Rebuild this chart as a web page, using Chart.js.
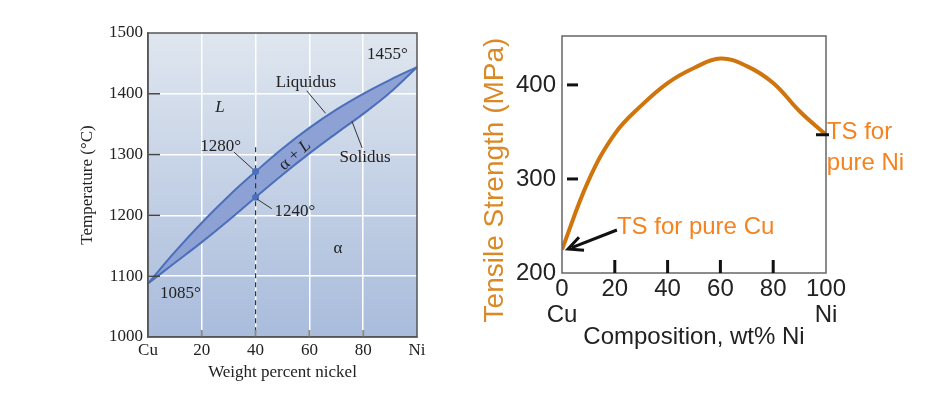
<!DOCTYPE html>
<html>
<head>
<meta charset="utf-8">
<script src="https://cdn.jsdelivr.net/npm/chart.js@4.4.1/dist/chart.umd.min.js"></script>
<style>
html, body { margin: 0; padding: 0; background: #fff; }
#wrap { position: relative; width: 937px; height: 395px; overflow: hidden; }
canvas { position: absolute; top: 0; }
#phase { left: 0; }
#ts { left: 460px; }
</style>
</head>
<body>
<div id="wrap">
  <canvas id="phase" width="460" height="395"></canvas>
  <canvas id="ts" width="477" height="395"></canvas>
</div>
<script>
// --- phase diagram (left) ---
const wtNi = [0, 10, 20, 30, 40, 50, 60, 70, 80, 90, 100];
const liquidus = [1088, 1140, 1188, 1232, 1272, 1310, 1344, 1374, 1400, 1423, 1444];
const solidus = [1088, 1122, 1156, 1192, 1230, 1267, 1302, 1335, 1367, 1402, 1444];
const alloyPct = 40;
const alloyTemps = [1272, 1230];
const alloyLineTemps = [1312, 1000];
const tempTicks = [1000, 1100, 1200, 1300, 1400, 1500];
const pctTicks = [0, 20, 40, 60, 80, 100];
const pctLabels = ['Cu', '20', '40', '60', '80', 'Ni'];

// --- tensile strength (right) ---
const compPct = [0, 10, 20, 30, 40, 50, 60, 70, 80, 90, 100];
const tensile = [225, 298, 348, 378, 402, 418, 428, 420, 402, 372, 347];
const tsTicks = [200, 300, 400];
const compTicks = [0, 20, 40, 60, 80, 100];
const compLabels = [['0', 'Cu'], '20', '40', '60', '80', ['100', 'Ni']];

const serif = "'Liberation Serif', 'Times New Roman', serif";
const sans = "'Liberation Sans', Arial, sans-serif";

function pts(xs, ys) { return xs.map((x, i) => ({ x: x, y: ys[i] })); }
function px(chart, x, y) { return [chart.scales.x.getPixelForValue(x), chart.scales.y.getPixelForValue(y)]; }

// text and leader lines on the phase diagram
const phaseNotes = [
  { text: '1455°', x: 89, y: 1464 },
  { text: 'Liquidus', x: 58.7, y: 1418 },
  { text: 'Solidus', x: 80.7, y: 1296 },
  { text: '1280°', x: 27, y: 1314 },
  { text: '1240°', x: 54.6, y: 1206 },
  { text: '1085°', x: 12, y: 1072 },
  { text: 'L', x: 26.8, y: 1377, italic: true },
  { text: 'α', x: 70.6, y: 1146 }
];
const phaseLeaders = [
  [[32, 1304], [39, 1276]],
  [[40.5, 1227], [46, 1211]],
  [[59, 1405], [66, 1368]],
  [[75.8, 1355], [79.6, 1311]]
];

const phaseDecor = {
  id: 'phaseDecor',
  beforeDraw(chart) {
    const { ctx, chartArea: a } = chart;
    const g = ctx.createLinearGradient(0, a.top, 0, a.bottom);
    g.addColorStop(0, '#dfe6ef');
    g.addColorStop(1, '#a9bcdc');
    ctx.save();
    ctx.fillStyle = g;
    ctx.fillRect(a.left, a.top, a.right - a.left, a.bottom - a.top);
    ctx.restore();
  },
  afterDraw(chart) {
    const { ctx, chartArea: a } = chart;
    const xs = chart.scales.x, ys = chart.scales.y;
    ctx.save();
    // inward ticks
    ctx.strokeStyle = '#444';
    ctx.lineWidth = 1.5;
    tempTicks.slice(1, -1).forEach(v => {
      const y = ys.getPixelForValue(v);
      ctx.beginPath(); ctx.moveTo(a.left, y); ctx.lineTo(a.left + 12, y); ctx.stroke();
    });
    ctx.strokeStyle = '#8a8a8a';
    ctx.lineWidth = 2;
    pctTicks.slice(1, -1).forEach(v => {
      const x = xs.getPixelForValue(v);
      ctx.beginPath(); ctx.moveTo(x, a.bottom); ctx.lineTo(x, a.bottom - 7); ctx.stroke();
    });
    // frame
    ctx.strokeStyle = '#555';
    ctx.lineWidth = 1.5;
    ctx.strokeRect(a.left, a.top, a.right - a.left, a.bottom - a.top);
    // leaders
    ctx.strokeStyle = '#333';
    ctx.lineWidth = 1;
    phaseLeaders.forEach(l => {
      const p0 = px(chart, l[0][0], l[0][1]), p1 = px(chart, l[1][0], l[1][1]);
      ctx.beginPath(); ctx.moveTo(p0[0], p0[1]); ctx.lineTo(p1[0], p1[1]); ctx.stroke();
    });
    // labels
    ctx.fillStyle = '#222';
    ctx.textAlign = 'center';
    ctx.textBaseline = 'middle';
    phaseNotes.forEach(n => {
      const p = px(chart, n.x, n.y);
      ctx.font = (n.italic ? 'italic ' : '') + '17px ' + serif;
      ctx.fillText(n.text, p[0], p[1]);
    });
    // alpha + L along the band
    const c = px(chart, 54.6, 1299);
    ctx.translate(c[0], c[1]);
    ctx.rotate(-42 * Math.PI / 180);
    ctx.textAlign = 'left';
    ctx.font = '17px ' + serif;
    const part = 'α + ';
    const w1 = ctx.measureText(part).width;
    ctx.font = 'italic 17px ' + serif;
    const w2 = ctx.measureText('L').width;
    ctx.font = '17px ' + serif;
    ctx.fillText(part, -(w1 + w2) / 2, 0);
    ctx.font = 'italic 17px ' + serif;
    ctx.fillText('L', -(w1 + w2) / 2 + w1, 0);
    ctx.restore();
  }
};

const hideEdges = (vals) => (c) => (c.tick && (c.tick.value === vals[0] || c.tick.value === vals[vals.length - 1])) ? 'rgba(0,0,0,0)' : '#ffffff';

new Chart(document.getElementById('phase'), {
  type: 'line',
  data: {
    datasets: [
      {
        data: alloyTemps.map(t => ({ x: alloyPct, y: t })),
        showLine: false,
        pointRadius: 3.5,
        pointBackgroundColor: '#4b6fba',
        pointBorderWidth: 0
      },
      {
        data: pts(wtNi, liquidus),
        borderColor: '#4b6fba',
        borderWidth: 2,
        backgroundColor: '#8da1d5',
        fill: '+1',
        pointRadius: 0,
        tension: 0.4
      },
      {
        data: pts(wtNi, solidus),
        borderColor: '#4b6fba',
        borderWidth: 2,
        fill: false,
        pointRadius: 0,
        tension: 0.4
      },
      {
        data: alloyLineTemps.map(t => ({ x: alloyPct, y: t })),
        borderColor: '#333',
        borderWidth: 1.2,
        borderDash: [5, 4],
        pointRadius: 0,
        fill: false
      }
    ]
  },
  options: {
    responsive: false,
    animation: false,
    layout: { padding: { left: 70, top: 33, right: 43, bottom: 0 } },
    plugins: {
      legend: { display: false },
      tooltip: { enabled: false },
      filler: { drawTime: 'beforeDatasetsDraw' }
    },
    scales: {
      x: {
        type: 'linear', min: 0, max: 100,
        afterBuildTicks: s => { s.ticks = pctTicks.map(v => ({ value: v })); },
        ticks: {
          callback: (v, i) => pctLabels[i],
          font: { family: serif, size: 17 }, color: '#222', padding: 3,
          maxRotation: 0, autoSkip: false
        },
        grid: { color: hideEdges(pctTicks), lineWidth: 1.5, drawTicks: false },
        border: { display: true, color: '#555', width: 1.5 },
        title: {
          display: true, text: 'Weight percent nickel',
          font: { family: serif, size: 17 }, color: '#222',
          padding: { top: 0, bottom: 12 }
        },
        afterFit: s => { s.height = 58; }
      },
      y: {
        type: 'linear', min: 1000, max: 1500,
        afterBuildTicks: s => { s.ticks = tempTicks.map(v => ({ value: v })); },
        ticks: {
          callback: v => String(v),
          font: { family: serif, size: 17 }, color: '#222', padding: 5
        },
        grid: { color: hideEdges(tempTicks), lineWidth: 1.5, drawTicks: false },
        border: { display: true, color: '#555', width: 1.5 },
        title: {
          display: true, text: 'Temperature (°C)',
          font: { family: serif, size: 17 }, color: '#222',
          padding: { top: 7, bottom: 0 }
        },
        afterFit: s => { s.width = 78; }
      }
    }
  },
  plugins: [phaseDecor]
});

// annotations on the tensile chart
const tsNotes = [
  { text: 'TS for pure Cu', x: 20.8, y: 249 },
  { text: 'TS for', x: 100.3, y: 349 },
  { text: 'pure Ni', x: 100.3, y: 317 }
];
const tsArrow = { from: [20.8, 245.7], to: [2.3, 225.5] };

const tsDecor = {
  id: 'tsDecor',
  afterDraw(chart) {
    const { ctx, chartArea: a } = chart;
    const xs = chart.scales.x, ys = chart.scales.y;
    ctx.save();
    ctx.strokeStyle = '#666';
    ctx.lineWidth = 1.5;
    ctx.strokeRect(a.left, a.top, a.right - a.left, a.bottom - a.top);
    // tick marks
    ctx.strokeStyle = '#111';
    ctx.lineWidth = 3;
    tsTicks.slice(1).forEach(v => {
      const y = ys.getPixelForValue(v);
      ctx.beginPath(); ctx.moveTo(a.left + 5, y); ctx.lineTo(a.left + 16, y); ctx.stroke();
    });
    compTicks.slice(1, -1).forEach(v => {
      const x = xs.getPixelForValue(v);
      ctx.beginPath(); ctx.moveTo(x, a.bottom); ctx.lineTo(x, a.bottom - 13); ctx.stroke();
    });
    const yNi = ys.getPixelForValue(tensile[tensile.length - 1]);
    ctx.beginPath(); ctx.moveTo(a.right - 10, yNi); ctx.lineTo(a.right + 3, yNi); ctx.stroke();
    // arrow
    const p0 = px(chart, tsArrow.from[0], tsArrow.from[1]);
    const p1 = px(chart, tsArrow.to[0], tsArrow.to[1]);
    const ang = Math.atan2(p1[1] - p0[1], p1[0] - p0[0]);
    ctx.lineWidth = 3;
    ctx.beginPath(); ctx.moveTo(p0[0], p0[1]); ctx.lineTo(p1[0] - 4 * Math.cos(ang), p1[1] - 4 * Math.sin(ang)); ctx.stroke();
    ctx.lineJoin = 'miter';
    ctx.beginPath();
    ctx.moveTo(p1[0] - 16 * Math.cos(ang - 0.45), p1[1] - 16 * Math.sin(ang - 0.45));
    ctx.lineTo(p1[0], p1[1]);
    ctx.lineTo(p1[0] - 16 * Math.cos(ang + 0.45), p1[1] - 16 * Math.sin(ang + 0.45));
    ctx.stroke();
    // notes
    ctx.fillStyle = '#f5821f';
    ctx.font = '24px ' + sans;
    ctx.textAlign = 'left';
    ctx.textBaseline = 'middle';
    tsNotes.forEach(n => {
      const p = px(chart, n.x, n.y);
      ctx.fillText(n.text, p[0], p[1]);
    });
    // y axis title
    ctx.fillStyle = '#d98a26';
    ctx.font = '28px ' + sans;
    ctx.textAlign = 'center';
    ctx.translate(35, 180);
    ctx.rotate(-Math.PI / 2);
    ctx.fillText('Tensile Strength (MPa)', 0, 0);
    ctx.restore();
  }
};

new Chart(document.getElementById('ts'), {
  type: 'line',
  data: {
    datasets: [{
      data: pts(compPct, tensile),
      borderColor: '#d0740e',
      borderWidth: 4,
      pointRadius: 0,
      fill: false,
      tension: 0.4
    }]
  },
  options: {
    responsive: false,
    animation: false,
    layout: { padding: { left: 0, top: 36, right: 111, bottom: 0 } },
    plugins: { legend: { display: false }, tooltip: { enabled: false } },
    scales: {
      x: {
        type: 'linear', min: 0, max: 100,
        afterBuildTicks: s => { s.ticks = compTicks.map(v => ({ value: v })); },
        ticks: {
          callback: (v, i) => compLabels[i],
          font: { family: sans, size: 24, lineHeight: 1.08 }, color: '#222', padding: 3,
          maxRotation: 0, autoSkip: false
        },
        grid: { display: false, drawTicks: false },
        border: { display: false },
        title: {
          display: true, text: 'Composition, wt% Ni',
          font: { family: sans, size: 24 }, color: '#222',
          padding: { top: 0, bottom: 43 }
        },
        afterFit: s => { s.height = 122; }
      },
      y: {
        type: 'linear', min: 200, max: 452,
        afterBuildTicks: s => { s.ticks = tsTicks.map(v => ({ value: v })); },
        ticks: { font: { family: sans, size: 24 }, color: '#222', padding: 6 },
        grid: { display: false, drawTicks: false },
        border: { display: false },
        afterFit: s => { s.width = 102; }
      }
    }
  },
  plugins: [tsDecor]
});
</script>
</body>
</html>
